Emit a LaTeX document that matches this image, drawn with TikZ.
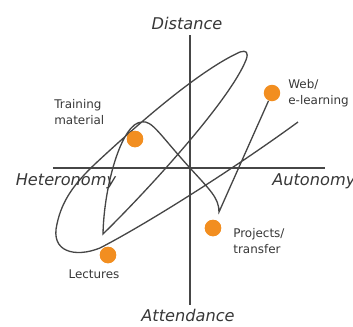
\documentclass[tikz,border=0pt]{standalone}
\usepackage{fontspec}
\setmainfont{DejaVu Sans}
\usepackage{tikz}
\definecolor{dotorange}{RGB}{242, 142, 32}
\definecolor{linegray}{RGB}{70, 70, 70}
\definecolor{textgray}{RGB}{55, 55, 55}

\begin{document}
\begin{tikzpicture}[x=0.02cm, y=-0.02cm,
  axislabel/.style={font=\fontsize{9.2}{11}\selectfont\itshape, text=textgray, inner sep=0pt},
  itemlabel/.style={font=\fontsize{6.8}{9}\selectfont, text=textgray, align=left, inner sep=0pt},
  dot/.style={circle, fill=dotorange, inner sep=0pt, minimum size=0.33cm},
  route/.style={draw=linegray, line width=0.75pt}]
\useasboundingbox (0,0) rectangle (353,326);

% Axes
\coordinate (top) at (190,35);
\coordinate (bottom) at (190,305);
\coordinate (left) at (53,168);
\coordinate (right) at (325,168);
\draw[route] (top) -- (bottom);
\draw[route] (left) -- (right);

% Dots
\node[dot] (training) at (135,139) {};
\node[dot] (web) at (272,93) {};
\node[dot] (projects) at (213,228) {};
\node[dot] (lectures) at (108,255) {};

% Loop
\coordinate (start) at (298,122);
\draw[route] (start) .. controls (235,168) and (150,222) .. (100,248)
  .. controls (75,258) and (50,252) .. (57,224)
  .. controls (62,200) and (75,183) .. (95,164)
  .. controls (140,122) and (200,70) .. (240,52)
  .. controls (246,50) and (249,52) .. (246,60)
  .. controls (230,100) and (150,188) .. (103,234)
  .. controls (104,185) and (122,122) .. (142,122)
  .. controls (152,120) and (160,135) .. (190,168)
  .. controls (210,190) and (219,198) .. (219,212) -- (web);

% Redraw dots on top
\node[dot] at (training) {};
\node[dot] at (projects) {};
\node[dot] at (lectures) {};

% Labels
\node[axislabel] (distance) at (187,23) {Distance};
\node[axislabel] (attendance) at (188,315) {Attendance};
\node[axislabel] (heteronomy) at (66,181) {Heteronomy};
\node[axislabel, anchor=west] (autonomy) at (272,181) {Autonomy};

\node[itemlabel, anchor=west] (trainlabel) at (54,112) {Training\\material};
\node[itemlabel, anchor=west] (weblabel) at (288,93) {Web/\\e-learning};
\node[itemlabel, anchor=west] (projlabel) at (233,241) {Projects/\\transfer};
\node[itemlabel] (lectlabel) at (94,274) {Lectures};
\end{tikzpicture}
\end{document}
